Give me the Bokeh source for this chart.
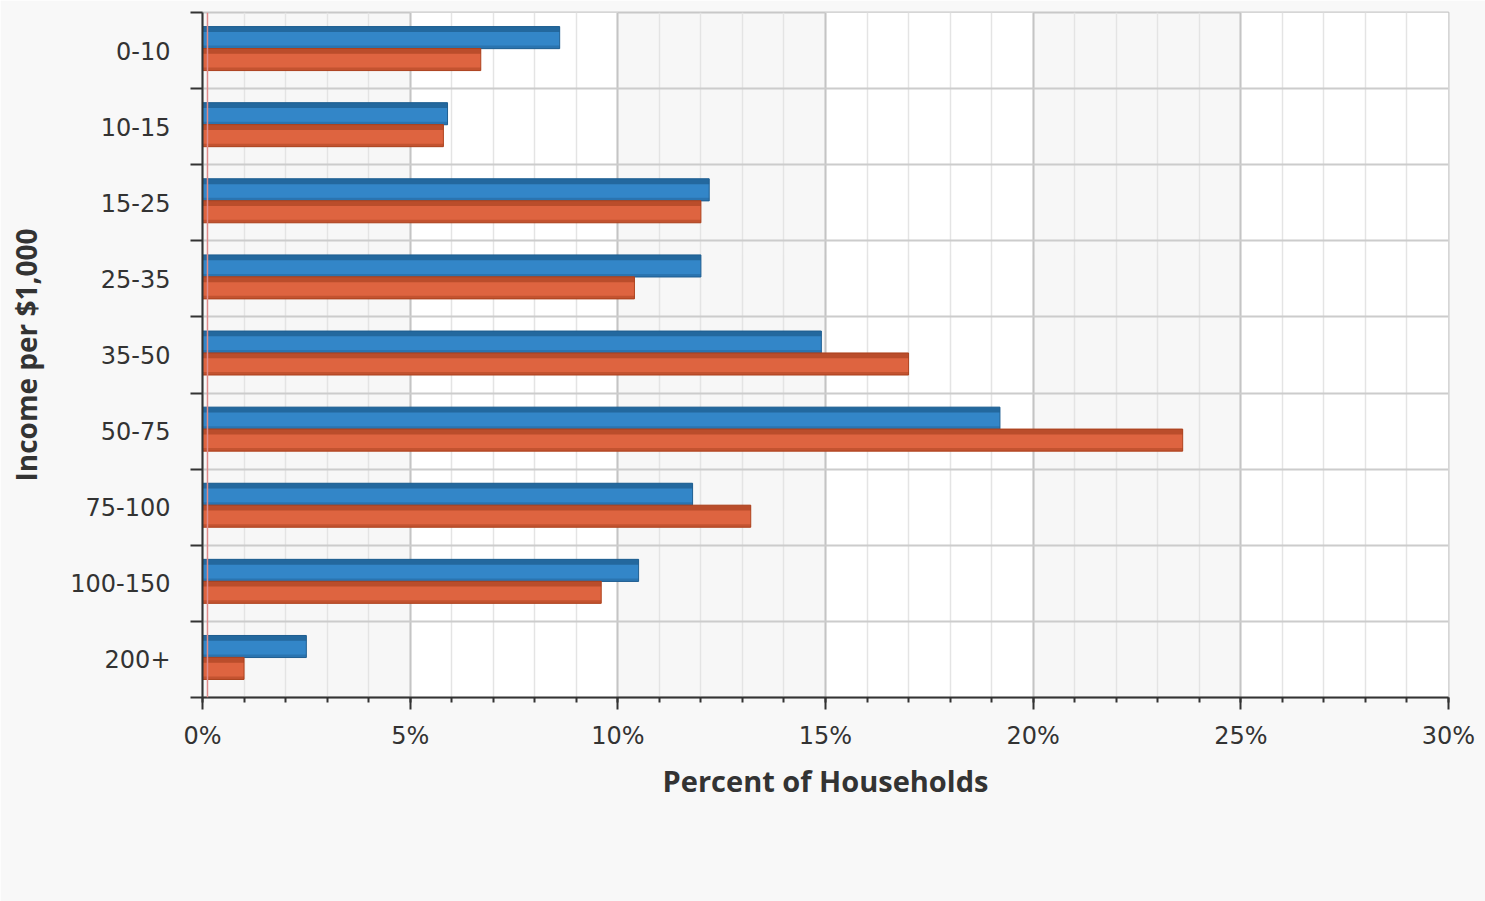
from bokeh.plotting import figure
from bokeh.models import (Range1d, LinearAxis, FixedTicker, Legend, LegendItem, Span, Grid,
                          ColumnDataSource)
from bokeh.transform import dodge
from bokeh.embed import file_html
from bokeh.resources import INLINE

# ---- data ----
categories = ["0-10", "10-15", "15-25", "25-35", "35-50", "50-75", "75-100", "100-150", "200+"]
boone = [8.6, 5.9, 12.2, 12.0, 14.9, 19.2, 11.8, 10.5, 2.5]
callaway = [6.7, 5.8, 12.0, 10.4, 17.0, 23.6, 13.2, 9.6, 1.0]
x_ticks = [0, 5, 10, 15, 20, 25, 30]
x_tick_labels = ["0%", "5%", "10%", "15%", "20%", "25%", "30%"]
series_names = ["- Boone County, Missouri", "- Callaway County, Missouri"]

TEXT = "#333333"
TICK_FONT = "DejaVu Sans"
TITLE_FONT = "Open Sans"

n = len(categories)
# first category at the top: numeric slot centres derived from list order
centers = [n - i - 0.5 for i in range(n)]
boundaries = list(range(n + 1))

source = ColumnDataSource(dict(cat=categories, y=centers, boone=boone, callaway=callaway))

p = figure(
    y_range=Range1d(0, n),
    x_range=Range1d(0, 30),
    frame_width=1246, frame_height=685,
    min_border_left=202, min_border_top=12, min_border_right=37, min_border_bottom=0,
    output_backend="svg", toolbar_location=None,
    x_axis_location=None, y_axis_location=None,
    background_fill_color="#f7f7f7", border_fill_color="#f8f8f8",
    outline_line_color="#c8c8c8", outline_line_width=2,
)
p.xgrid.visible = False
p.ygrid.visible = False

# ---- x axis ----
xaxis = LinearAxis(
    ticker=FixedTicker(ticks=x_ticks, minor_ticks=list(range(0, 31))),
    major_label_overrides={t: l for t, l in zip(x_ticks, x_tick_labels)},
    axis_label="Percent of Households",
)
xaxis.axis_line_color = "#333333"
xaxis.axis_line_width = 2
xaxis.major_tick_line_color = "#333333"
xaxis.major_tick_line_width = 2
xaxis.major_tick_out = 12
xaxis.major_tick_in = 0
xaxis.minor_tick_line_color = "#333333"
xaxis.minor_tick_line_width = 2
xaxis.minor_tick_out = 5
xaxis.minor_tick_in = 0
xaxis.major_label_text_font = TICK_FONT
xaxis.major_label_text_font_size = "24px"
xaxis.major_label_text_color = TEXT
xaxis.major_label_standoff = 12
xaxis.axis_label_text_font = TITLE_FONT
xaxis.axis_label_text_font_style = "bold"
xaxis.axis_label_text_font_size = "29px"
xaxis.axis_label_text_color = TEXT
xaxis.axis_label_standoff = 8
p.add_layout(xaxis, "below")

# ---- y axes: tick axis at slot boundaries, label axis at slot centres ----
ytick_axis = LinearAxis(
    ticker=FixedTicker(ticks=boundaries, minor_ticks=[]),
    major_label_overrides={b: "" for b in boundaries},
)
ytick_axis.axis_line_color = "#333333"
ytick_axis.axis_line_width = 2
ytick_axis.major_tick_line_color = "#333333"
ytick_axis.major_tick_line_width = 2
ytick_axis.major_tick_out = 12
ytick_axis.major_tick_in = 0
ytick_axis.minor_tick_line_color = None
ytick_axis.major_label_standoff = 0
ytick_axis.major_label_text_font_size = "1px"
p.add_layout(ytick_axis, "left")

ycat_axis = LinearAxis(
    ticker=FixedTicker(ticks=centers, minor_ticks=[]),
    major_label_overrides={c: k for c, k in zip(centers, categories)},
    axis_label="Income per $1,000",
)
ycat_axis.axis_line_color = None
ycat_axis.major_tick_line_color = None
ycat_axis.minor_tick_line_color = None
ycat_axis.major_label_text_font = TICK_FONT
ycat_axis.major_label_text_font_size = "24px"
ycat_axis.major_label_text_color = TEXT
ycat_axis.major_label_standoff = 14
ycat_axis.axis_label_text_font = TITLE_FONT
ycat_axis.axis_label_text_font_style = "bold"
ycat_axis.axis_label_text_font_size = "28px"
ycat_axis.axis_label_text_color = TEXT
ycat_axis.axis_label_standoff = 22
p.add_layout(ycat_axis, "left")

# ---- grids ----
xgrid = Grid(dimension=0, ticker=xaxis.ticker)
xgrid.grid_line_color = "#c4c4c4"
xgrid.grid_line_width = 2
xgrid.minor_grid_line_color = "#e4e4e4"
xgrid.minor_grid_line_width = 1.5
xgrid.band_fill_color = "#ffffff"
xgrid.band_fill_alpha = 1
p.add_layout(xgrid)

ygrid = Grid(dimension=1, ticker=ytick_axis.ticker)
ygrid.grid_line_color = "#cccccc"
ygrid.grid_line_width = 2
p.add_layout(ygrid)

p.add_layout(Span(location=0.12, dimension="height", line_color="#e08a8a", line_width=1.5))

# ---- bars ----
BAR_H = 0.29
blue_body, blue_dark, blue_line = "#3386c8", "#1d5b8c", "#1f5f92"
oran_body, oran_dark, oran_line = "#de6440", "#9c3a1a", "#b0441f"

rb = p.hbar(y=dodge("y", 0.17), left=0, right="boone", height=BAR_H,
            source=source, fill_color=blue_body, line_color=blue_line, line_width=1)
p.hbar(y=dodge("y", 0.17 + BAR_H / 2 - 0.035), left=0, right="boone", height=0.07,
       source=source, fill_color=blue_dark, fill_alpha=0.7, line_color=None)
p.hbar(y=dodge("y", 0.17 - BAR_H / 2 + 0.02), left=0, right="boone", height=0.04,
       source=source, fill_color=blue_dark, fill_alpha=0.4, line_color=None)

ro = p.hbar(y=dodge("y", -0.118), left=0, right="callaway", height=BAR_H,
            source=source, fill_color=oran_body, line_color=oran_line, line_width=1)
p.hbar(y=dodge("y", -0.118 + BAR_H / 2 - 0.035), left=0, right="callaway", height=0.07,
       source=source, fill_color=oran_dark, fill_alpha=0.55, line_color=None)
p.hbar(y=dodge("y", -0.118 - BAR_H / 2 + 0.02), left=0, right="callaway", height=0.04,
       source=source, fill_color=oran_dark, fill_alpha=0.4, line_color=None)

# ---- legend ----
legend = Legend(
    items=[LegendItem(label=series_names[0], renderers=[rb]),
           LegendItem(label=series_names[1], renderers=[ro])],
    orientation="horizontal", location="top_center",
)
legend.label_text_font = TITLE_FONT
legend.label_text_font_style = "bold"
legend.label_text_font_size = "22px"
legend.label_text_color = "#222222"
legend.glyph_width = 52
legend.glyph_height = 22
legend.label_standoff = 12
legend.spacing = 36
legend.padding = 6
legend.margin = 0
legend.border_line_color = "#d8d8d8"
legend.border_line_width = 2
legend.background_fill_color = "#f4f4f4"
legend.background_fill_alpha = 1
p.add_layout(legend, "below")

open("out.html", "w").write(file_html(p, INLINE))
